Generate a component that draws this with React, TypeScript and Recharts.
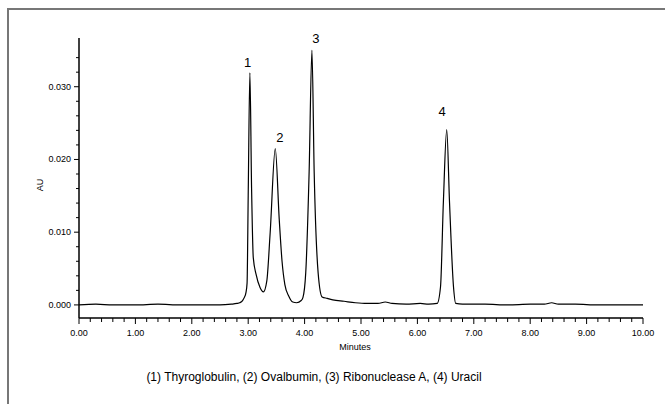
import React from 'react';
import { LineChart, Line, XAxis, YAxis, ReferenceDot, Label } from 'recharts';

// chromatogram trace (minutes, AU)
const minutes = [
  0.0, 0.3, 0.6, 1.0, 1.4, 1.8, 2.2, 2.5, 2.7, 2.8, 2.85, 2.9, 2.93, 2.96, 2.98,
  3.0, 3.03, 3.06, 3.09, 3.14, 3.21, 3.27, 3.33, 3.39, 3.48, 3.55, 3.6, 3.65,
  3.72, 3.79, 3.86, 3.94, 3.97, 4.02, 4.08, 4.13, 4.17, 4.24, 4.31, 4.4, 4.5,
  4.7, 4.9, 5.1, 5.3, 5.43, 5.55, 5.8, 6.05, 6.2, 6.35, 6.41, 6.46, 6.52, 6.57,
  6.64, 6.68, 6.8, 7.2, 7.6, 8.0, 8.25, 8.38, 8.5, 8.8, 9.2, 9.6, 10.0,
];
const au = [
  0.0, 0.0001, 0.0, 0.0, 0.0001, 0.0, 0.0, 0.0, 0.0001, 0.0002, 0.0003, 0.0006,
  0.001, 0.0017, 0.003, 0.015, 0.0319, 0.016, 0.0065, 0.0042, 0.0024, 0.0018,
  0.0033, 0.01, 0.0215, 0.0118, 0.006, 0.0028, 0.0012, 0.0004, 0.0003, 0.0006,
  0.001, 0.0044, 0.0182, 0.035, 0.0182, 0.0044, 0.0011, 0.0009, 0.0007, 0.0005,
  0.0003, 0.0002, 0.0002, 0.0004, 0.0002, 0.0001, 0.0002, 0.0001, 0.0002,
  0.0025, 0.014, 0.0241, 0.014, 0.0025, 0.0002, 0.0001, 0.0001, 0.0, 0.0001,
  0.0001, 0.0003, 0.0001, 0.0001, 0.0, 0.0, 0.0,
];

const peakNames = ['1', '2', '3', '4'];
const peakLabelMinutes = [2.99, 3.56, 4.2, 6.44];
const peakLabelAu = [0.0334, 0.0231, 0.0367, 0.0266];

const xMajorTicks = [0, 1, 2, 3, 4, 5, 6, 7, 8, 9, 10];
const xMinorTicks = [
  0.2, 0.4, 0.6, 0.8, 1.2, 1.4, 1.6, 1.8, 2.2, 2.4, 2.6, 2.8, 3.2, 3.4, 3.6, 3.8,
  4.2, 4.4, 4.6, 4.8, 5.2, 5.4, 5.6, 5.8, 6.2, 6.4, 6.6, 6.8, 7.2, 7.4, 7.6, 7.8,
  8.2, 8.4, 8.6, 8.8, 9.2, 9.4, 9.6, 9.8,
];
const yMajorTicks = [0, 0.01, 0.02, 0.03];
const yMinorTicks = [
  0.002, 0.004, 0.006, 0.008, 0.012, 0.014, 0.016, 0.018, 0.022, 0.024, 0.026,
  0.028, 0.032, 0.034,
];

const caption = '(1) Thyroglobulin, (2) Ovalbumin, (3) Ribonuclease A, (4) Uracil';

const data = minutes.map((t, i) => ({ t, au: au[i] }));

const XTick = (props: any) => {
  const { x, y, payload } = props;
  const major = xMajorTicks.includes(payload.value);
  return (
    <g>
      <line x1={x} x2={x} y1={y} y2={y + (major ? 6 : 4)} stroke="#000" strokeWidth={1} />
      {major && (
        <text x={x} y={y + 18} textAnchor="middle" fontSize={9} fill="#000">
          {payload.value.toFixed(2)}
        </text>
      )}
    </g>
  );
};

const YTick = (props: any) => {
  const { x, y, payload } = props;
  const major = yMajorTicks.includes(payload.value);
  return (
    <g>
      <line x1={x - (major ? 5 : 3)} x2={x} y1={y} y2={y} stroke="#000" strokeWidth={1} />
      {major && (
        <text x={x - 8} y={y + 3} textAnchor="end" fontSize={9} fill="#000">
          {payload.value.toFixed(3)}
        </text>
      )}
    </g>
  );
};

export default function App() {
  return (
    <div
      style={{
        position: 'absolute',
        left: 0,
        top: 0,
        width: 665,
        height: 404,
        overflow: 'hidden',
        background: '#fff',
        fontFamily: 'Arial, "Liberation Sans", sans-serif',
      }}
    >
      <div
        style={{
          position: 'absolute',
          left: 7,
          top: 8,
          width: 720,
          height: 460,
          borderLeft: '2px solid #777',
          borderTop: '2px solid #777',
        }}
      />
      <div style={{ position: 'absolute', left: 0, top: 0 }}>
        <LineChart width={665} height={404} data={data} margin={{ top: 38, right: 22, bottom: 0, left: 19 }}>
          <XAxis
            type="number"
            dataKey="t"
            domain={[0, 10]}
            allowDataOverflow
            ticks={[...xMajorTicks, ...xMinorTicks]}
            interval={0}
            tick={<XTick />}
            tickLine={false}
            tickSize={0}
            tickMargin={0}
            height={86}
            axisLine={{ stroke: '#000', strokeWidth: 1.5 }}
          >
            <Label
              content={({ viewBox }: any) => (
                <text x={viewBox.x + viewBox.width / 2 - 6} y={viewBox.y + 32} textAnchor="middle" fontSize={9} fill="#000">
                  Minutes
                </text>
              )}
            />
            <Label
              content={({ viewBox }: any) => (
                <text x={viewBox.x + 235} y={viewBox.y + 63} textAnchor="middle" fontSize={12} fill="#000">
                  {caption}
                </text>
              )}
            />
          </XAxis>
          <YAxis
            type="number"
            domain={[-0.0018, 0.0367]}
            allowDataOverflow
            ticks={[...yMajorTicks, ...yMinorTicks]}
            interval={0}
            tick={<YTick />}
            tickLine={false}
            tickSize={0}
            tickMargin={0}
            width={60}
            axisLine={{ stroke: '#000', strokeWidth: 1.5 }}
          >
            <Label
              content={({ viewBox }: any) => {
                const cx = viewBox.x + 24;
                const cy = viewBox.y + viewBox.height / 2 + 7;
                return (
                  <text x={cx} y={cy} transform={`rotate(-90 ${cx} ${cy})`} textAnchor="middle" fontSize={9} fill="#000">
                    AU
                  </text>
                );
              }}
            />
          </YAxis>
          <Line
            type="monotone"
            dataKey="au"
            stroke="#000"
            strokeWidth={1.2}
            dot={false}
            isAnimationActive={false}
          />
          {peakNames.map((name, i) => (
            <ReferenceDot
              key={name}
              x={peakLabelMinutes[i]}
              y={peakLabelAu[i]}
              r={0}
              fill="none"
              stroke="none"
              ifOverflow="visible"
              label={{ value: name, position: 'center', fontSize: 13, fill: '#000' }}
            />
          ))}
        </LineChart>
      </div>
    </div>
  );
}
